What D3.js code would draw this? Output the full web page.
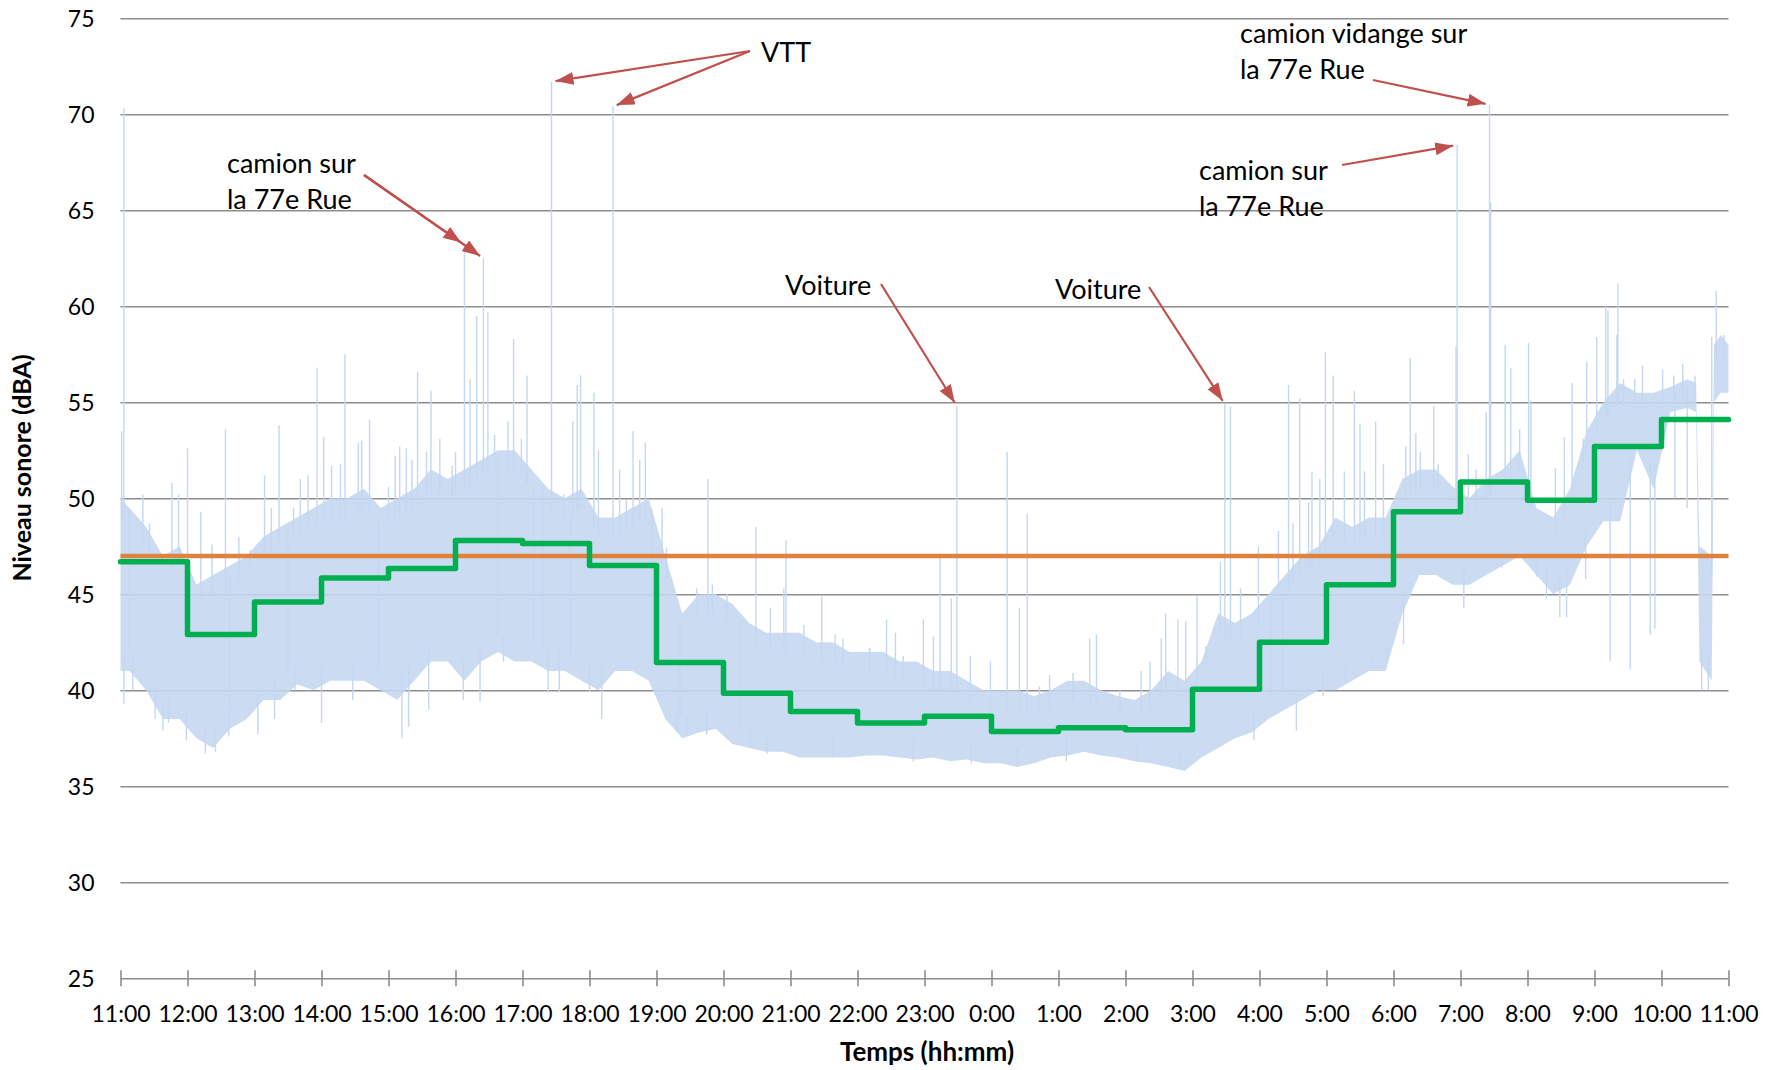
<!DOCTYPE html>
<html>
<head>
<meta charset="utf-8">
<script src="https://cdn.jsdelivr.net/npm/d3@7"></script>
<style>
  body { margin: 0; background: #fff; }
  svg { display: block; font-family: Lato, "Open Sans", sans-serif; }
</style>
</head>
<body>
<svg id="chart" width="1782" height="1070"></svg>
<script>
// ---------- data ----------
// clock times; a trailing "+" means the next morning (end of the 24 h run)
const hourTicks = ["11:00", "12:00", "13:00", "14:00", "15:00", "16:00", "17:00", "18:00",
  "19:00", "20:00", "21:00", "22:00", "23:00", "0:00", "1:00", "2:00", "3:00", "4:00",
  "5:00", "6:00", "7:00", "8:00", "9:00", "10:00", "11:00+"];

// hourly Leq (green steps), one per hour starting 11:00
const hourlyLeq = [46.7, 42.9, 44.6, 45.85, 46.35, 47.8, 47.65, 46.5, 41.45, 39.85, 38.9, 38.3,
  38.65, 37.85, 38.05, 37.95, 40.05, 42.5, 45.5, 49.3, 50.85, 49.9, 52.7, 54.1];

// 24 h Leq (orange line)
const leq24h = 47.0;

const yTicks = [25, 30, 35, 40, 45, 50, 55, 60, 65, 70, 75];

// dense part of the 1 s record: lower / upper edge
const bandTimes = ["11:00", "11:08", "11:23", "11:38", "11:53", "12:08", "12:23", "12:38", "12:53",
  "13:08", "13:23", "13:38", "13:53", "14:08", "14:23", "14:38", "14:53", "15:08", "15:23",
  "15:38", "15:53", "16:08", "16:23", "16:38", "16:53", "17:08", "17:23", "17:38", "17:53",
  "18:08", "18:23", "18:38", "18:53", "19:08", "19:23", "19:38", "19:53", "20:08", "20:23",
  "20:38", "20:53", "21:08", "21:23", "21:38", "21:53", "22:08", "22:23", "22:38", "22:53",
  "23:08", "23:23", "23:38", "23:53", "0:08", "0:23", "0:38", "0:53", "1:08", "1:23", "1:38",
  "1:53", "2:08", "2:23", "2:38", "2:53", "3:08", "3:23", "3:38", "3:53", "4:08", "4:23",
  "4:38", "4:53", "5:08", "5:23", "5:38", "5:53", "6:08", "6:23", "6:38", "6:53", "7:08",
  "7:23", "7:38", "7:53", "8:08", "8:23", "8:38", "8:53", "9:08", "9:23", "9:38", "9:53",
  "10:08", "10:23", "10:31", "10:34", "10:45", "10:47", "10:53", "11:00+"];
const bandLow = [41, 41, 40, 38.5, 38.5, 37.5, 37, 38, 38.5,
  39.5, 39.5, 40.3, 40, 40.5, 40.5, 40.5, 40, 39.5, 40.5,
  41.5, 41.5, 40.5, 41.5, 42, 41.5, 41.5, 41, 41, 40.5,
  40, 41, 41, 40.5, 38.5, 37.5, 37.8, 38, 37.2, 37,
  36.8, 36.8, 36.5, 36.5, 36.5, 36.5, 36.6, 36.6, 36.5, 36.4,
  36.5, 36.3, 36.4, 36.2, 36.2, 36, 36.2, 36.5, 36.6, 36.8, 36.6,
  36.5, 36.3, 36.2, 36, 35.8, 36.5, 37, 37.5, 37.8, 38.5, 39,
  39.5, 40, 40, 40.5, 41, 41, 44, 46, 46, 45.5, 45.5,
  46, 46.5, 47, 46, 45, 45.5, 47.5, 48.8, 48.8, 52.5, 50.5,
  54.5, 54.7, 54.5, 41.5, 40.5, 55, 55.5, 55.5];
const bandHigh = [50, 49.5, 48.5, 47, 47.5, 45.5, 46, 46.5, 47,
  48, 48.5, 49, 49.5, 50, 50, 50.5, 49.5, 50, 50.5,
  51.5, 51, 51.5, 52, 52.5, 52.5, 51.5, 50.5, 50, 50.5,
  49, 49, 49.5, 50, 47, 44, 45, 45, 44.5, 43.5,
  43, 43, 43, 42.5, 42.5, 42, 42, 42, 41.5, 41.5,
  41, 41, 40.5, 40, 40, 40, 39.7, 40, 40.5, 40.5, 40,
  39.7, 39.5, 40, 41, 40.5, 41.5, 44, 43.5, 44, 45, 46,
  47, 47.5, 49, 48.5, 49, 49, 51, 51.5, 51.5, 50.6, 50,
  51, 51.5, 52.5, 49.5, 49, 50.5, 53.5, 55, 56, 55.5, 55.5,
  55.8, 56.2, 56, 47.5, 47, 58, 58.5, 58];

// isolated peaks / dips of the 1 s record
const peakTimes = ["11:01", "11:03", "12:00", "12:34", "13:09", "13:22", "13:56", "14:02", "14:21",
  "14:36", "14:43", "15:06", "15:12", "15:16", "15:26", "15:36", "15:38", "16:08", "16:13",
  "16:19", "16:25", "16:29", "16:35", "16:52", "17:04", "17:18", "17:26", "17:45", "17:49",
  "17:52", "18:04", "18:08", "18:11", "18:21", "18:27", "18:39", "18:50", "19:02", "19:05",
  "19:46", "20:29", "20:56", "21:28", "22:26", "22:59", "23:14", "23:24", "23:29", "0:14",
  "0:25", "0:32", "1:34", "2:36", "2:47", "3:04", "3:25", "3:29", "3:34", "3:59", "4:26",
  "4:36", "4:44", "4:47", "4:59", "5:06", "5:25", "5:44", "6:15", "6:20", "6:36", "6:56",
  "6:57", "7:07", "7:26", "7:27", "7:40", "7:45", "8:01", "8:35", "8:40", "8:53", "9:10",
  "9:14", "9:21", "9:32", "9:43", "9:50", "10:01", "10:12", "10:19", "10:36", "10:42",
  "10:49", "10:56"];
const peakLevels = [53.5, 70.3, 52.6, 53.6, 51.2, 53.8, 56.8, 53.2, 57.5,
  53.0, 54.1, 52.2, 37.5, 52.6, 56.6, 39.0, 55.6, 63.2, 56.2,
  59.5, 62.5, 59.7, 53.3, 58.3, 56.4, 50.8, 71.7, 54.0, 55.9,
  56.4, 55.5, 52.5, 38.5, 70.4, 51.5, 53.5, 52.9, 39.5, 49.5,
  51.0, 48.5, 47.8, 44.9, 43.7, 43.7, 46.9, 44.8, 54.8, 52.4,
  44.3, 49.2, 42.9, 44.0, 43.7, 44.9, 46.7, 54.9, 54.8, 47.5, 55.9,
  55.2, 49.8, 51.4, 57.6, 56.4, 55.6, 54.0, 57.3, 53.4, 54.8, 57.9,
  68.4, 52.3, 70.5, 65.4, 58.0, 56.8, 58.1, 43.8, 56.0, 57.1, 60.0,
  41.5, 61.2, 41.1, 56.9, 42.9, 56.7, 50.0, 57.0, 40.0, 40.0,
  60.8, 58.5];

// smaller excursions along the edges of the dense part
const edgeTimes = ["11:03", "11:08", "11:11", "11:20", "11:26", "11:31", "11:38", "11:43", "11:46",
  "11:52", "11:59", "12:12", "12:16", "12:22", "12:25", "12:37", "12:38", "12:46", "12:56",
  "13:03", "13:15", "13:18", "13:30", "13:35", "13:36", "13:41", "13:48", "14:00", "14:09",
  "14:17", "14:28", "14:33", "14:51", "15:00", "15:10", "15:18", "15:21", "15:34", "15:46",
  "15:57", "16:00", "16:07", "16:22", "16:38", "16:43", "16:47", "16:59", "17:10", "17:23",
  "17:33", "17:37", "17:43", "18:00", "18:33", "18:45", "18:56", "19:09", "19:18", "19:21",
  "19:27", "19:36", "19:45", "19:50", "20:03", "20:15", "20:24", "20:39", "20:42", "20:54",
  "21:12", "21:38", "21:40", "21:47", "22:11", "22:34", "22:41", "22:50", "23:08", "23:41",
  "23:42", "23:59", "0:23", "0:43", "0:52", "1:07", "1:13", "1:28", "1:55", "2:10", "2:14",
  "2:22", "2:32", "2:49", "2:54", "3:12", "3:43", "3:55", "4:10", "4:17", "4:21", "4:30",
  "4:33", "4:54", "4:57", "5:16", "5:17", "5:30", "5:34", "5:40", "5:51", "5:54", "6:09",
  "6:11", "6:24", "6:40", "7:03", "7:14", "7:23", "7:37", "7:53", "8:03", "8:08", "8:17",
  "8:25", "8:29", "8:33", "8:50", "8:52", "9:02", "9:12", "9:20", "9:26", "9:36", "9:54",
  "10:11", "10:23", "10:30", "10:45"];
const edgeLevels = [39.3, 49.5, 40.0, 50.2, 48.7, 38.5, 37.9, 38.3, 50.8,
  50.2, 37.4, 49.3, 36.7, 47.6, 36.8, 37.6, 46.0, 48.0, 47.3,
  37.7, 49.5, 38.5, 48.5, 49.5, 40.0, 51.0, 51.2, 38.3, 51.7,
  51.8, 39.5, 52.9, 48.8, 50.6, 52.7, 38.1, 52.0, 52.4, 53.1,
  51.7, 52.4, 39.5, 39.4, 52.2, 41.5, 54.0, 53.1, 50.6, 39.9,
  39.9, 50.2, 49.2, 39.9, 49.9, 52.0, 49.4, 47.4, 37.9, 43.6,
  37.6, 45.3, 37.7, 45.5, 45.0, 43.6, 37.0, 36.7, 44.3, 45.3,
  43.4, 36.5, 42.9, 42.7, 42.2, 43.0, 41.8, 36.3, 42.8, 41.8,
  36.2, 41.5, 36.1, 40.2, 40.8, 36.3, 40.9, 42.7, 40.0, 36.3, 41.0,
  41.5, 42.7, 36.0, 43.6, 42.3, 45.3, 37.4, 45.0, 48.3, 44.8, 48.7,
  37.9, 51.0, 39.7, 51.4, 40.5, 53.9, 51.4, 41.5, 51.8, 41.5, 42.4,
  52.7, 52.4, 51.8, 44.3, 51.5, 54.5, 46.4, 53.6, 55.1, 45.9, 44.8,
  51.6, 43.8, 53.2, 53.1, 45.8, 58.4, 59.8, 58.5, 56.2, 56.2, 43.2,
  56.4, 49.5, 56.4, 58.4];

// event labels and the peaks they point at
const notes = [
  { lines: ["camion sur", "la 77e Rue"], tx: 227, ty: 173, from: [364, 175], to: ["16:08", "16:25"] },
  { lines: ["VTT"], tx: 761, ty: 62, from: [750, 51], to: ["17:26", "18:21"] },
  { lines: ["Voiture"], tx: 785, ty: 295, from: [881, 284], to: ["23:29"] },
  { lines: ["Voiture"], tx: 1055, ty: 299, from: [1149, 287], to: ["3:29"] },
  { lines: ["camion vidange sur", "la 77e Rue"], tx: 1240, ty: 43, from: [1373, 80], to: ["7:26"] },
  { lines: ["camion sur", "la 77e Rue"], tx: 1199, ty: 180, from: [1342, 165], to: ["6:57"] }
];

// ---------- helpers ----------
function clock(s) {
  const next = s.endsWith("+");
  const [h, m] = s.replace("+", "").split(":").map(Number);
  const day = next || h < 11 ? 2 : 1;
  return new Date(2000, 0, day, h, m);
}

const BLUE = "#c4d7f0";
const GRID = "#8e8e8e";
const RED = "#c0504d";

const svg = d3.select("#chart");

const x = d3.scaleTime()
  .domain([clock("11:00"), clock("11:00+")])
  .range([120.5, 1728.5]);

const y = d3.scaleLinear()
  .domain([25, 75])
  .range([978.3, 18.3]);

const plotW = x.range()[1] - x.range()[0];

// --------------- grid + y axis ---------------
const gy = svg.append("g")
  .attr("transform", `translate(${x.range()[0]},0)`)
  .call(d3.axisLeft(y).tickValues(yTicks).tickSize(-plotW).tickPadding(26).tickFormat(d3.format("d")));
gy.select(".domain").remove();
gy.selectAll(".tick line").attr("stroke", GRID).attr("stroke-width", 1.6);
gy.selectAll(".tick text")
  .attr("font-family", "Lato, 'Open Sans', sans-serif")
  .attr("font-size", 23).attr("fill", "#000").attr("dy", "0.36em");

// --------------- x axis (cross ticks) ---------------
const gx = svg.append("g")
  .attr("transform", `translate(0,${y(25)})`)
  .call(d3.axisBottom(x).tickValues(hourTicks.map(clock))
    .tickFormat(d3.timeFormat("%-H:%M")).tickSizeInner(8).tickSizeOuter(0).tickPadding(19));
gx.select(".domain").remove();
gx.selectAll(".tick line").attr("y1", -8).attr("stroke", GRID).attr("stroke-width", 1.6);
gx.selectAll(".tick text")
  .attr("font-family", "Lato, 'Open Sans', sans-serif")
  .attr("font-size", 23).attr("fill", "#000");

// --------------- 1 s record ---------------
const band = bandTimes.map((t, i) => ({ t: clock(t), lo: bandLow[i], hi: bandHigh[i] }));

svg.append("path")
  .datum(band)
  .attr("d", d3.area().x(d => x(d.t)).y0(d => y(d.lo)).y1(d => y(d.hi)))
  .attr("fill", BLUE)
  .attr("fill-opacity", 0.88);

const lowAt = d3.scaleTime().domain(band.map(d => d.t)).range(bandLow);
const highAt = d3.scaleTime().domain(band.map(d => d.t)).range(bandHigh);

function spike(t, v) {
  const d = clock(t);
  const base = v > highAt(d) ? highAt(d) - 1 : lowAt(d) + 1;
  return { t: d, v, base };
}

const spikes = peakTimes.map((t, i) => spike(t, peakLevels[i]))
  .concat(edgeTimes.map((t, i) => spike(t, edgeLevels[i])));

svg.append("g")
  .selectAll("line")
  .data(spikes)
  .join("line")
  .attr("x1", d => x(d.t)).attr("x2", d => x(d.t))
  .attr("y1", d => y(d.base)).attr("y2", d => y(d.v))
  .attr("stroke", BLUE)
  .attr("stroke-width", 1.4);

// --------------- 24 h Leq ---------------
svg.append("path")
  .datum([clock("11:00"), clock("11:00+")])
  .attr("d", d3.line().x(d => x(d)).y(() => y(leq24h)))
  .attr("stroke", "#e0823d")
  .attr("stroke-width", 4.5)
  .attr("fill", "none");

// --------------- hourly Leq ---------------
const steps = hourlyLeq.map((v, i) => ({ t: clock(hourTicks[i]), v }));
steps.push({ t: clock("11:00+"), v: hourlyLeq[hourlyLeq.length - 1] });

svg.append("path")
  .datum(steps)
  .attr("d", d3.line().x(d => x(d.t)).y(d => y(d.v)).curve(d3.curveStepAfter))
  .attr("stroke", "#00b050")
  .attr("stroke-width", 5.5)
  .attr("stroke-linejoin", "round")
  .attr("stroke-linecap", "round")
  .attr("fill", "none");

// --------------- annotations ---------------
svg.append("defs").append("marker")
  .attr("id", "head")
  .attr("markerUnits", "userSpaceOnUse")
  .attr("markerWidth", 20).attr("markerHeight", 14)
  .attr("refX", 18).attr("refY", 6.5)
  .attr("orient", "auto")
  .append("path")
  .attr("d", "M0,0 L18,6.5 L0,13 Z")
  .attr("fill", RED);

const peakByTime = new Map(peakTimes.map((t, i) => [t, peakLevels[i]]));

notes.forEach(n => {
  const txt = svg.append("text")
    .attr("x", n.tx).attr("y", n.ty)
    .attr("font-size", 27).attr("fill", "#000");
  n.lines.forEach((l, i) => {
    txt.append("tspan").attr("x", n.tx).attr("dy", i === 0 ? 0 : 36).text(l);
  });

  n.to.forEach(t => {
    const tx = x(clock(t)), ty = y(peakByTime.get(t));
    const dx = tx - n.from[0], dy = ty - n.from[1];
    const len = Math.hypot(dx, dy);
    const gap = 4;
    svg.append("line")
      .attr("x1", n.from[0]).attr("y1", n.from[1])
      .attr("x2", tx - dx / len * gap).attr("y2", ty - dy / len * gap)
      .attr("stroke", RED)
      .attr("stroke-width", 2.2)
      .attr("marker-end", "url(#head)");
  });
});

// --------------- axis titles ---------------
svg.append("text")
  .attr("transform", "translate(31,468) rotate(-90)")
  .attr("text-anchor", "middle")
  .attr("font-size", 25).attr("font-weight", "bold")
  .text("Niveau sonore (dBA)");

svg.append("text")
  .attr("x", 927).attr("y", 1061)
  .attr("text-anchor", "middle")
  .attr("font-size", 26).attr("font-weight", "bold")
  .text("Temps (hh:mm)");
</script>
</body>
</html>
